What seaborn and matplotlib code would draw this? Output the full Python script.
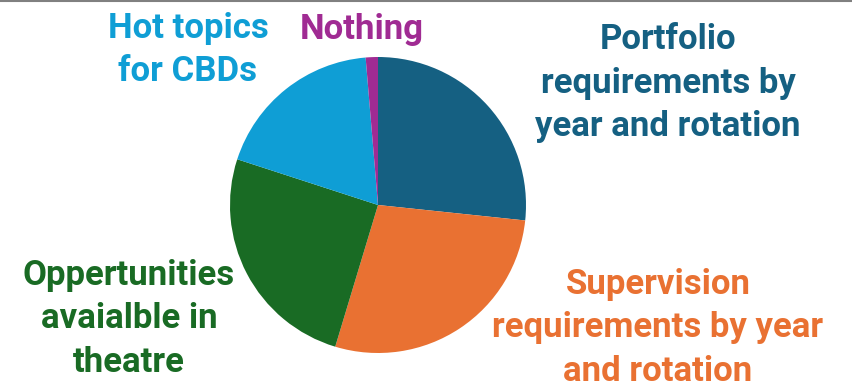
import matplotlib
matplotlib.use("Agg")
import matplotlib.pyplot as plt
import seaborn as sns
from matplotlib.lines import Line2D

categories = ["Portfolio\nrequirements by\nyear and rotation",
              "Supervision\nrequirements by year\nand rotation",
              "Oppertunities\navaialble in\ntheatre",
              "Hot topics\nfor CBDs",
              "Nothing"]
values = [20, 21, 19, 14, 1]
colors = ["#156082", "#E97132", "#196B24", "#0F9ED5", "#A02B93"]

sns.set_theme(style="white")
plt.rcParams['font.family'] = ['Roboto', 'DejaVu Sans']

W, H = 852, 389
fig = plt.figure(figsize=(W / 100, H / 100), dpi=100)
cx, cy, r = 378, 205, 148
ax = fig.add_axes([(cx - r) / W, (H - cy - r) / H, 2 * r / W, 2 * r / H])
ax.pie(values, colors=colors, startangle=90, counterclock=False, radius=1,
       wedgeprops=dict(linewidth=0))
ax.set_xlim(-1, 1)
ax.set_ylim(-1, 1)
ax.axis("off")

# label positions (pixel coords, centre of text block)
label_pos = [(668, 83), (658, 328), (129, 319), (188, 50), (362, 30)]
for cat, col, (x, y) in zip(categories, colors, label_pos):
    fig.text(x / W, 1 - y / H, cat, color=col, fontsize=25, fontweight="bold",
             ha="center", va="center", multialignment="center", linespacing=1.42)

fig.add_artist(Line2D([0, 1], [1 - 0.5 / H, 1 - 0.5 / H], color="#808080",
                      linewidth=1.5, transform=fig.transFigure))

fig.savefig("out.png", dpi=100)
